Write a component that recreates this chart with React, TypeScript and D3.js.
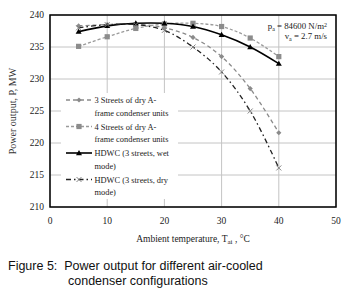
import React from "react";
import * as d3 from "d3";

const temps = [5, 10, 15, 20, 25, 30, 35, 40];
const dry3 = [238.3, 238.5, 238.6, 238.0, 236.5, 233.5, 228.5, 221.6];
const dry4 = [235.1, 236.6, 237.9, 238.6, 238.7, 238.2, 236.4, 233.5];
const hdwcWet = [237.4, 238.3, 238.7, 238.7, 238.2, 236.9, 235.0, 232.4];
const hdwcDry = [238.0, 238.5, 238.5, 237.6, 235.0, 231.1, 225.0, 216.1];
const xTicks = [0, 10, 20, 30, 40, 50];
const yTicks = [210, 215, 220, 225, 230, 235, 240];

const W = 357, H = 290;
const L = 50, R = 336, T = 15, B = 207;

export default function App() {
  const x = d3.scaleLinear().domain([0, 50]).range([L, R]);
  const y = d3.scaleLinear().domain([210, 240]).range([B, T]);
  const line = d3
    .line<number>()
    .x((_, i) => x(temps[i]))
    .y((d) => y(d))
    .curve(d3.curveCatmullRom.alpha(0.5));

  const serif = "'Liberation Serif', 'Times New Roman', serif";
  const sans = "'Liberation Sans', Arial, sans-serif";

  const diamond = (cx: number, cy: number, k: string) => (
    <path key={k} d={`M${cx},${cy - 2.6}L${cx + 2.6},${cy}L${cx},${cy + 2.6}L${cx - 2.6},${cy}Z`} fill="#8a8a8a" />
  );
  const square = (cx: number, cy: number, k: string) => (
    <rect key={k} x={cx - 2.6} y={cy - 2.6} width={5.2} height={5.2} fill="#8c8c8c" />
  );
  const tri = (cx: number, cy: number, k: string) => (
    <path key={k} d={`M${cx},${cy - 3}L${cx + 3},${cy + 2.2}L${cx - 3},${cy + 2.2}Z`} fill="#000" />
  );
  const cross = (cx: number, cy: number, k: string) => (
    <path key={k} d={`M${cx - 2.5},${cy - 2.5}L${cx + 2.5},${cy + 2.5}M${cx - 2.5},${cy + 2.5}L${cx + 2.5},${cy - 2.5}`} stroke="#777" strokeWidth={0.9} />
  );

  const series = [
    { data: dry3, stroke: "#8a8a8a", dash: "4,3", width: 1.3, marker: diamond },
    { data: dry4, stroke: "#9a9a9a", dash: "3,2", width: 1.3, marker: square },
    { data: hdwcWet, stroke: "#000", dash: undefined, width: 1.6, marker: tri },
    { data: hdwcDry, stroke: "#222", dash: "5,3,1.5,3", width: 1.3, marker: cross },
  ];

  const legendItems = [
    { lines: ["3 Streets of dry A-", "frame condenser units"], s: series[0] },
    { lines: ["4 Streets of dry A-", "frame condenser units"], s: series[1] },
    { lines: ["HDWC (3 streets, wet", "mode)"], s: series[2] },
    { lines: ["HDWC (3 streets, dry", "mode)"], s: series[3] },
  ];

  return (
    <svg width={W} height={H} style={{ position: "absolute", left: 0, top: 0, background: "#fff" }}>
      {yTicks.map((t) => (
        <line key={"gy" + t} x1={L} x2={R} y1={y(t)} y2={y(t)} stroke="#c4c4c4" strokeWidth={1} />
      ))}
      {xTicks.map((t) => (
        <line key={"gx" + t} x1={x(t)} x2={x(t)} y1={T} y2={B} stroke="#c4c4c4" strokeWidth={1} />
      ))}
      <rect x={61} y={93} width={117} height={106} fill="#fff" />
      {series.map((s, i) => (
        <path key={"s" + i} d={line(s.data) || ""} fill="none" stroke={s.stroke} strokeWidth={s.width} strokeDasharray={s.dash} />
      ))}
      {series.map((s, i) => s.data.map((v, j) => s.marker(x(temps[j]), y(v), `m${i}-${j}`)))}
      <rect x={L} y={T} width={R - L} height={B - T} fill="none" stroke="#000" strokeWidth={1.5} />
      {yTicks.map((t) => (
        <text key={"yl" + t} x={44} y={y(t) + 3} textAnchor="end" fontFamily={serif} fontSize={9.5} fill="#222">
          {t}
        </text>
      ))}
      {xTicks.map((t) => (
        <text key={"xl" + t} x={x(t)} y={224} textAnchor="middle" fontFamily={serif} fontSize={9.5} fill="#222">
          {t}
        </text>
      ))}
      <text x={193} y={242} textAnchor="middle" fontFamily={serif} fontSize={9.5} fill="#222">
        Ambient temperature, T<tspan fontSize={7} dy={2}>ai</tspan>
        <tspan dy={-2}> , °C</tspan>
      </text>
      <text transform={`translate(16,${(T + B) / 2}) rotate(-90)`} textAnchor="middle" fontFamily={serif} fontSize={10} fill="#333">
        Power output, P, MW
      </text>
      <text x={327} y={29} textAnchor="end" fontFamily={serif} fontSize={8.8} fill="#222">
        p<tspan fontSize={6} dy={1.5}>a</tspan>
        <tspan dy={-1.5}> = 84600 N/m</tspan>
        <tspan fontSize={6} dy={-2.5}>2</tspan>
      </text>
      <text x={327} y={39} textAnchor="end" fontFamily={serif} fontSize={8.8} fill="#222">
        v<tspan fontSize={6} dy={1.5}>a</tspan>
        <tspan dy={-1.5}> = 2.7 m/s</tspan>
      </text>
      {legendItems.map((it, i) => {
        const ly = 100 + i * 26.5;
        return (
          <g key={"lg" + i}>
            <line x1={66} x2={92} y1={ly} y2={ly} stroke={it.s.stroke} strokeWidth={it.s.width} strokeDasharray={it.s.dash} />
            {it.s.marker(79, ly, "lm" + i)}
            {it.lines.map((tx, k) => (
              <text key={k} x={94.5} y={ly + 3 + k * 12.5} fontFamily={serif} fontSize={8.4} fill="#222">
                {tx}
              </text>
            ))}
          </g>
        );
      })}
      <text x={8} y={269.5} fontFamily={sans} fontSize={12.5} fill="#111" xmlSpace="preserve">
        Figure 5:  Power output for different air-cooled
      </text>
      <text x={68} y={284.5} fontFamily={sans} fontSize={12.5} fill="#111">
        condenser configurations
      </text>
    </svg>
  );
}
